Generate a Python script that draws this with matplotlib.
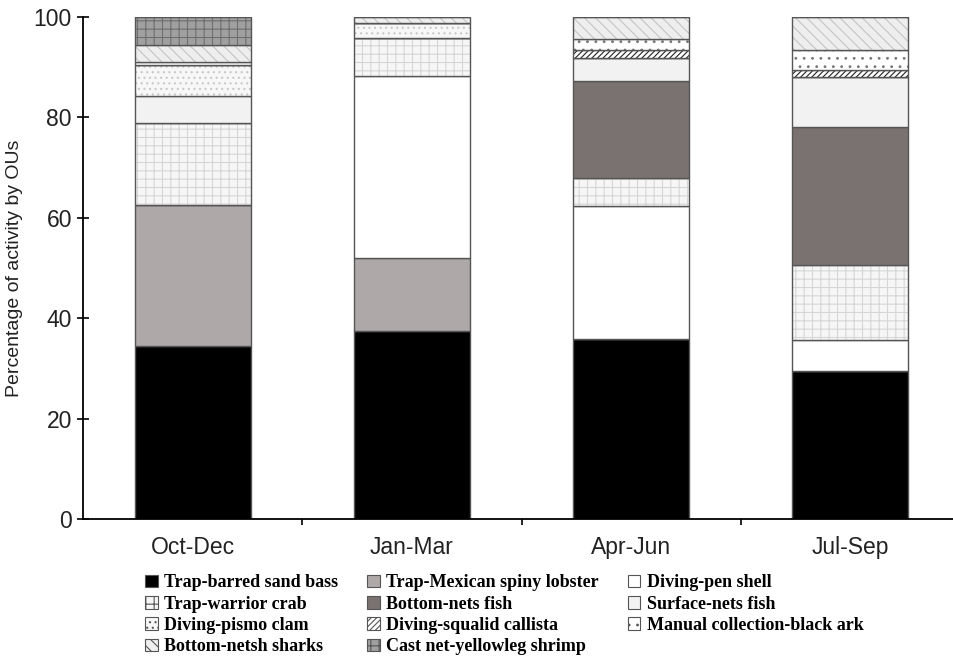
import numpy as np
import matplotlib
matplotlib.use("Agg")
import matplotlib.pyplot as plt
from matplotlib.patches import Patch

quarters = ["Oct-Dec", "Jan-Mar", "Apr-Jun", "Jul-Sep"]

# percentages, bottom to top of each bar
trap_sand_bass = [34.5, 37.5, 35.9, 29.5]
trap_lobster = [28.0, 14.4, 0.0, 0.0]
diving_pen_shell = [0.0, 36.4, 26.4, 6.2]
trap_warrior_crab = [16.3, 7.5, 5.6, 14.8]
bottom_nets_fish = [0.0, 0.0, 19.4, 27.5]
surface_nets_fish = [5.4, 0.0, 4.5, 10.1]
diving_pismo_clam = [6.2, 3.1, 0.0, 0.0]
diving_squalid = [0.0, 0.0, 1.7, 1.3]
manual_black_ark = [0.6, 0.0, 2.1, 4.1]
bottom_net_sharks = [3.4, 1.1, 4.4, 6.5]
cast_net_shrimp = [5.6, 0.0, 0.0, 0.0]

names = ["Trap-barred sand bass", "Trap-Mexican spiny lobster", "Diving-pen shell",
         "Trap-warrior crab", "Bottom-nets fish", "Surface-nets fish",
         "Diving-pismo clam", "Diving-squalid callista", "Manual collection-black ark",
         "Bottom-netsh sharks", "Cast net-yellowleg shrimp"]
series = [trap_sand_bass, trap_lobster, diving_pen_shell, trap_warrior_crab,
          bottom_nets_fish, surface_nets_fish, diving_pismo_clam, diving_squalid,
          manual_black_ark, bottom_net_sharks, cast_net_shrimp]

# (face colour, hatch, hatch colour)
styles = [("#000000", None, None),
          ("#aea8a8", None, None),
          ("#ffffff", None, None),
          ("#f6f6f6", "++", "#d6d6d6"),
          ("#7a7270", None, None),
          ("#f2f2f2", None, None),
          ("#f7f7f7", "...", "#c8c8c8"),
          ("#ffffff", "//////", "#222222"),
          ("#ffffff", "..", "#777777"),
          ("#eeeeee", "\\\\\\", "#c4c4c4"),
          ("#a0a0a0", "++", "#6e6e6e")]

plt.rcParams["hatch.linewidth"] = 0.8
sans = ["Liberation Sans", "DejaVu Sans"]

fig = plt.figure(figsize=(9.54, 6.6), dpi=100)
ax = fig.add_axes([83 / 954, 141 / 660, 877 / 954, 502 / 660])

x = np.arange(len(quarters))
width = 0.53
bottom = np.zeros(len(quarters))
handles = []
for name, vals, (fc, hatch, hc) in zip(names, series, styles):
    vals = np.array(vals)
    ax.bar(x, vals, width, bottom=bottom, color=fc, hatch=hatch,
           edgecolor=hc if hatch else fc, linewidth=0)
    ax.bar(x, vals, width, bottom=bottom, fill=False, edgecolor="#555555", linewidth=1.0)
    bottom += vals
    handles.append(Patch(facecolor=fc, hatch=hatch, edgecolor="#555555", linewidth=0.8, label=name))

ax.set_xlim(-0.5, 3.5)
ax.set_ylim(0, 100)
ax.spines["top"].set_visible(False)
ax.spines["right"].set_visible(False)
ax.spines["left"].set_linewidth(1.3)
ax.spines["bottom"].set_linewidth(1.3)

ax.set_xticks(x)
ax.set_xticklabels(quarters, family=sans, fontsize=16.5, color="#222222")
ax.tick_params(axis="x", which="major", length=0, pad=12)
ax.set_xticks([0.5, 1.5, 2.5], minor=True)
ax.tick_params(axis="x", which="minor", direction="out", length=4, width=1.2)

ax.set_yticks(np.arange(0, 101, 20))
ax.set_yticklabels([str(v) for v in range(0, 101, 20)], family=sans, fontsize=16.5, color="#222222")
ax.tick_params(axis="y", direction="inout", length=8, width=1.2, pad=4)
ax.set_ylabel("Percentage of activity by OUs", family=sans, fontsize=14, color="#222222", labelpad=8)

# legend reads row by row in the original, matplotlib fills column by column
order = [0, 3, 6, 9, 1, 4, 7, 10, 2, 5, 8]
fig.legend(handles=[handles[i] for i in order], loc="lower left",
           bbox_to_anchor=(138 / 954, -0.004), ncol=3,
           frameon=False, prop={"family": "Liberation Serif", "weight": "bold", "size": 13},
           handlelength=0.7, handleheight=0.7, handletextpad=0.35, columnspacing=1.6,
           labelspacing=0.24, borderaxespad=0.0)

fig.savefig("out.png", dpi=100)
